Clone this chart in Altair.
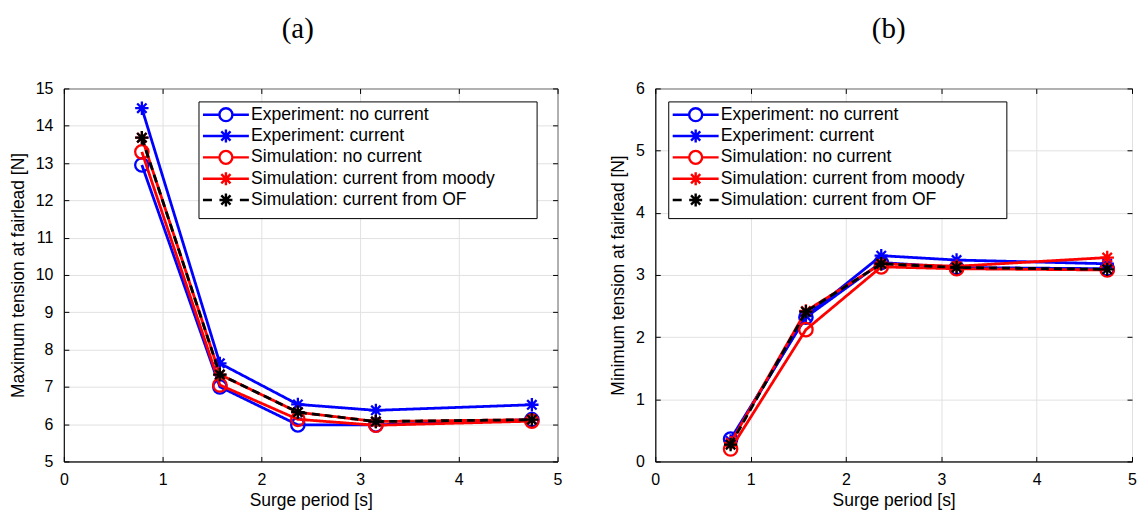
import altair as alt
import pandas as pd

# ---------------- data ----------------
periods = [0.79, 1.58, 2.37, 3.16, 4.74]
series_names = [
    "Experiment: no current",
    "Experiment: current",
    "Simulation: no current",
    "Simulation: current from moody",
    "Simulation: current from OF",
]
series_colors = ["#0000ff", "#0000ff", "#ff0000", "#ff0000", "#000000"]

max_exp_nc = [12.95, 7.0, 5.98, 5.98, 6.12]
max_exp_c = [14.47, 7.63, 6.53, 6.37, 6.52]
max_sim_nc = [13.3, 7.05, 6.13, 5.97, 6.08]
max_sim_moody = [13.68, 7.33, 6.32, 6.07, 6.12]
max_sim_of = [13.68, 7.33, 6.32, 6.07, 6.12]

min_exp_nc = [0.36, 2.32, 3.2, 3.12, 3.1]
min_exp_c = [0.33, 2.34, 3.31, 3.24, 3.18]
min_sim_nc = [0.2, 2.12, 3.13, 3.1, 3.08]
min_sim_moody = [0.3, 2.42, 3.18, 3.14, 3.28]
min_sim_of = [0.27, 2.41, 3.18, 3.12, 3.09]

x_ticks = [0, 1, 2, 3, 4, 5]
y_ticks_a = [5, 6, 7, 8, 9, 10, 11, 12, 13, 14, 15]
y_ticks_b = [0, 1, 2, 3, 4, 5, 6]

# ---------------- styles ----------------
STAR = "M-1,0L1,0M0,-1L0,1M-0.7,-0.7L0.7,0.7M-0.7,0.7L0.7,-0.7"
LEG_CIRCLE = ("M-3.29,0L-0.93,0M0.93,0L3.29,0"
              "M0.93,0A0.93,0.93,0,1,1,-0.93,0A0.93,0.93,0,1,1,0.93,0Z")
LEG_STAR = ("M-3.29,0L3.29,0M0,-0.93L0,0.93"
            "M-0.66,-0.66L0.66,0.66M-0.66,0.66L0.66,-0.66")
LEG_STAR_DASH = ("M-3.29,0L-2.0,0M-0.93,0L0.93,0M2.0,0L3.29,0"
                 "M0,-0.93L0,0.93M-0.66,-0.66L0.66,0.66M-0.66,0.66L0.66,-0.66")
point_shapes = ["circle", STAR, "circle", STAR, STAR]
legend_shapes = [LEG_CIRCLE, LEG_STAR, LEG_CIRCLE, LEG_STAR, LEG_STAR_DASH]
dashes = [[1, 0], [1, 0], [1, 0], [1, 0], [8, 5]]
legend_spacer = "M" * 198  # invisible (white) text that only widens the legend box

FONT = "Liberation Sans"
H = 374


def panel(series_values, ytitle, ydomain, yticks, W, title, legend_x, title_dx):
    rows = []
    for name, vals in zip(series_names, series_values):
        for p, v in zip(periods, vals):
            rows.append({"period": p, "value": v, "series": name})
    df = pd.DataFrame(rows)
    base = alt.Chart(df)

    xs = alt.Scale(domain=[0, 5], nice=False, zero=False)
    ys = alt.Scale(domain=ydomain, nice=False, zero=False)
    cscale = alt.Scale(domain=series_names, range=series_colors)
    legend = alt.Legend(
        title=legend_spacer, titleOrient="bottom", titleColor="white", titleFontSize=2,
        titlePadding=0, titleFont=FONT, titleLimit=1000, titleAnchor="start",
        titleLineHeight=2,
        orient="none", legendX=legend_x, legendY=13,
        fillColor="white", strokeColor="black", padding=4.5,
        labelFont=FONT, labelFontSize=17.6, labelColor="black",
        symbolSize=196, symbolStrokeWidth=2.4, symbolOffset=14.2, labelOffset=16.4,
        labelLimit=500, rowPadding=-2.6, symbolOpacity=1,
    )
    color = alt.Color("series:N", scale=cscale, legend=legend)

    main_x = alt.Axis(title="Surge period [s]", values=x_ticks, ticks=False, grid=True,
                      domain=True, labelPadding=10, titlePadding=4, format="d",
                      labelFlush=False)
    main_y = alt.Axis(title=ytitle, values=yticks, ticks=False, grid=True,
                      domain=True, labelPadding=11, titlePadding=8, format="d",
                      labelFlush=False)
    tick_common = dict(ticks=True, tickSize=5, labels=False, domain=False, grid=False,
                       title=None, tickColor="black", tickWidth=1)
    in_x_bottom = alt.Axis(orient="top", offset=-H, values=x_ticks, **tick_common)
    in_x_top = alt.Axis(orient="bottom", offset=-H, values=x_ticks, **tick_common)
    in_y_left = alt.Axis(orient="right", offset=-W, values=yticks, **tick_common)
    in_y_right = alt.Axis(orient="left", offset=-W, values=yticks, **tick_common)

    layers = []
    for i, name in enumerate(series_names):
        sub = base.transform_filter(alt.datum.series == name)
        if i == 0:
            xa, ya = main_x, main_y
        elif i == 1:
            xa, ya = in_x_bottom, in_y_left
        elif i == 2:
            xa, ya = in_x_top, in_y_right
        else:
            xa, ya = None, None
        line = sub.mark_line(strokeWidth=2.8, strokeDash=dashes[i]).encode(
            x=alt.X("period:Q", scale=xs, axis=xa),
            y=alt.Y("value:Q", scale=ys, axis=ya),
            color=color,
        )
        pts = sub.mark_point(shape=point_shapes[i], filled=False, size=180,
                             strokeWidth=2.3, opacity=1).encode(
            x=alt.X("period:Q", scale=xs, axis=None),
            y=alt.Y("value:Q", scale=ys, axis=None),
            color=color,
        )
        layers += [line, pts]

    legend_layer = base.transform_filter("false").mark_point(
        filled=False, opacity=1, strokeWidth=2.4
    ).encode(
        x=alt.X("period:Q", scale=xs, axis=None),
        y=alt.Y("value:Q", scale=ys, axis=None),
        color=color,
        shape=alt.Shape("series:N",
                        scale=alt.Scale(domain=series_names, range=legend_shapes),
                        legend=legend),
    )
    layers.append(legend_layer)

    return alt.layer(*layers).resolve_axis(x="independent", y="independent").properties(
        width=W, height=H,
        title=alt.TitleParams(title, font="Liberation Serif", fontSize=29,
                              fontWeight="normal", color="black", offset=37,
                              anchor="middle", frame="group", dx=title_dx),
    )


pa = panel([max_exp_nc, max_exp_c, max_sim_nc, max_sim_moody, max_sim_of],
           "Maximum tension at fairlead [N]", [5, 15], y_ticks_a, 495, "(a)", 135, -13)
pb = panel([min_exp_nc, min_exp_c, min_sim_nc, min_sim_moody, min_sim_of],
           "Minimum tension at fairlead [N]", [0, 6], y_ticks_b, 478, "(b)", 13, -5)

chart = alt.hconcat(pa, pb, spacing=46).resolve_scale(
    color="independent", shape="independent"
).properties(
    padding={"left": 0, "top": 5, "right": 0, "bottom": 0},
    background="white",
).configure_view(
    stroke="black", strokeWidth=1
).configure_axis(
    gridColor="#e1e1e1", gridWidth=1, domainColor="black", domainWidth=1,
    labelColor="black", titleColor="black", labelFont=FONT, titleFont=FONT,
    labelFontSize=16, titleFontSize=17.5, titleFontWeight="normal",
)

chart.save("out.html", embed_options={"renderer": "svg", "actions": False})
